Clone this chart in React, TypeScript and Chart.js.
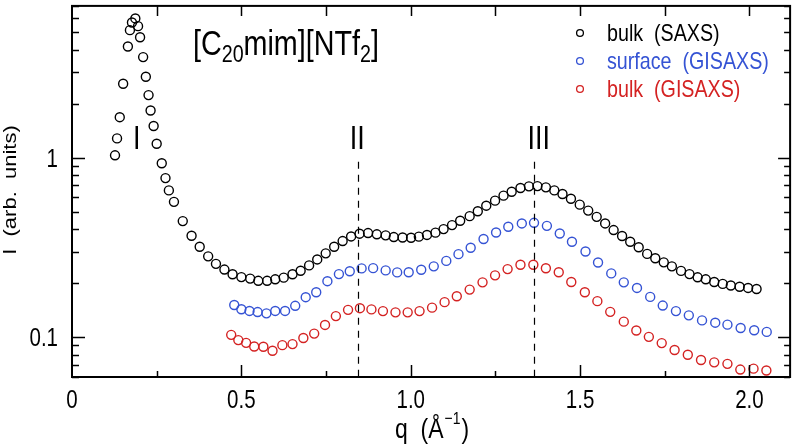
import React, { useEffect, useRef } from "react";
import { Chart, registerables } from "chart.js";

Chart.register(...registerables);

const FONT = '"Liberation Sans", Arial, sans-serif';
const SX = 0.82; // horizontal condensing of the lettering

// bulk (SAXS)
const qSaxs = [0.127,0.133,0.141,0.151,0.165,0.171,0.177,0.187,0.195,0.201,
  0.210,0.218,0.226,0.232,0.241,0.250,0.265,0.276,0.286,0.301,
  0.327,0.353,0.377,0.402,0.425,0.450,0.474,0.500,0.526,0.550,
  0.576,0.600,0.625,0.651,0.675,0.700,0.724,0.749,0.774,0.799,
  0.824,0.849,0.874,0.900,0.926,0.950,0.976,1.001,1.024,1.048,
  1.073,1.097,1.122,1.146,1.174,1.198,1.223,1.249,1.274,1.298,
  1.324,1.349,1.374,1.399,1.424,1.448,1.473,1.499,1.524,1.549,
  1.574,1.599,1.624,1.648,1.673,1.698,1.722,1.747,1.771,1.798,
  1.823,1.847,1.871,1.896,1.921,1.945,1.971,1.996,2.021];
const iSaxs = [1.03,1.28,1.68,2.58,4.16,5.13,5.66,5.96,5.40,4.68,
  3.63,2.82,2.23,1.83,1.50,1.195,0.930,0.769,0.657,0.567,
  0.443,0.367,0.319,0.282,0.256,0.238,0.224,0.216,0.212,0.206,
  0.206,0.210,0.2145,0.224,0.2345,0.251,0.271,0.293,0.319,0.343,
  0.364,0.377,0.380,0.374,0.369,0.361,0.359,0.358,0.363,0.371,
  0.382,0.400,0.421,0.445,0.472,0.503,0.540,0.576,0.614,0.646,
  0.677,0.692,0.694,0.683,0.657,0.627,0.590,0.547,0.507,0.468,
  0.430,0.395,0.366,0.340,0.317,0.291,0.275,0.261,0.248,0.234,
  0.2245,0.2155,0.210,0.203,0.198,0.194,0.191,0.188,0.1855];

// surface (GISAXS)
const qSurf = [0.479,0.500,0.524,0.548,0.574,0.600,0.629,0.659,0.690,0.721,
  0.754,0.788,0.820,0.855,0.889,0.926,0.960,0.994,1.031,1.068,
  1.105,1.141,1.177,1.215,1.252,1.288,1.328,1.364,1.402,1.440,
  1.476,1.516,1.553,1.592,1.629,1.668,1.707,1.744,1.783,1.821,
  1.860,1.899,1.935,1.974,2.014,2.051];
const iSurf = [0.151,0.143,0.140,0.138,0.1357,0.140,0.140,0.1495,0.167,0.178,
  0.205,0.2245,0.233,0.2415,0.2424,0.2355,0.2295,0.230,0.2375,0.248,
  0.266,0.290,0.315,0.352,0.383,0.412,0.430,0.4335,0.417,0.378,
  0.340,0.300,0.2607,0.2266,0.202,0.188,0.1676,0.150,0.1397,0.1323,
  0.124,0.1204,0.1174,0.1125,0.1093,0.107];

// bulk (GISAXS)
const qBulkGi = [0.470,0.491,0.514,0.538,0.565,0.592,0.621,0.651,0.683,0.715,
  0.747,0.779,0.815,0.850,0.884,0.918,0.955,0.991,1.026,1.063,
  1.100,1.136,1.174,1.212,1.249,1.286,1.324,1.362,1.399,1.437,
  1.474,1.514,1.551,1.589,1.629,1.666,1.703,1.741,1.779,1.818,
  1.857,1.896,1.935,1.973,2.012,2.050];
const iBulkGi = [0.103,0.0963,0.093,0.0887,0.0884,0.084,0.0903,0.0915,0.099,0.1047,
  0.117,0.131,0.142,0.145,0.1428,0.1397,0.1375,0.1375,0.1397,0.146,
  0.1567,0.169,0.184,0.202,0.221,0.2394,0.253,0.253,0.242,0.230,
  0.203,0.178,0.1587,0.1384,0.122,0.109,0.1004,0.0927,0.0848,0.0798,
  0.0746,0.0724,0.071,0.066,0.0668,0.0652];

const seriesNames = ["bulk  (SAXS)", "surface  (GISAXS)", "bulk  (GISAXS)"];
const seriesColors = ["#000000", "#3553d4", "#d42222"];

const xTickValues = [0, 0.5, 1.0, 1.5, 2.0];
const xTickLabels = ["0", "0.5", "1.0", "1.5", "2.0"];
const yTickValues = [0.1, 1];
const yTickLabels = ["0.1", "1"];

const peakQ = [0.191, 0.844, 1.365];
const peakLabels = ["I", "II", "III"];
const peakLabelQ = [0.191, 0.842, 1.378];

const titleParts: [string, boolean][] = [["[C", false], ["20", true], ["mim][NTf", false], ["2", true], ["]", false]];

function toPts(q: number[], v: number[]) {
  return q.map((x, i) => ({ x, y: v[i] }));
}

function txt(ctx: CanvasRenderingContext2D, s: string, x: number, y: number, size: number,
  align: CanvasTextAlign = "left", baseline: CanvasTextBaseline = "alphabetic") {
  ctx.save();
  ctx.font = `${size}px ${FONT}`;
  ctx.textAlign = align;
  ctx.textBaseline = baseline;
  ctx.translate(x, y);
  ctx.scale(SX, 1);
  ctx.fillText(s, 0, 0);
  const w = ctx.measureText(s).width * SX;
  ctx.restore();
  return w;
}

const overlay = {
  id: "overlay",
  afterDraw(chart: any) {
    const ctx: CanvasRenderingContext2D = chart.ctx;
    const xs = chart.scales.x;
    const ys = chart.scales.y;
    const a = chart.chartArea;
    ctx.save();
    ctx.strokeStyle = "#000";
    ctx.fillStyle = "#000";
    // dashed peak lines
    ctx.lineWidth = 1.2;
    ctx.setLineDash([7, 6]);
    for (let i = 1; i < peakQ.length; i++) {
      const px = Math.round(xs.getPixelForValue(peakQ[i])) + 0.5;
      ctx.beginPath();
      ctx.moveTo(px, ys.getPixelForValue(0.95));
      ctx.lineTo(px, a.bottom);
      ctx.stroke();
    }
    ctx.setLineDash([]);
    // frame
    ctx.lineWidth = 2;
    ctx.strokeRect(a.left, a.top, a.right - a.left, a.bottom - a.top);
    // x ticks
    ctx.lineWidth = 1.5;
    for (let k = 1; k * 0.25 < 2.12; k++) {
      const v = k * 0.25;
      const px = Math.round(xs.getPixelForValue(v)) + 0.5;
      const major = k % 2 === 0;
      ctx.beginPath();
      ctx.moveTo(px, a.bottom);
      ctx.lineTo(px, a.bottom - (major ? 12 : 6));
      ctx.moveTo(px, a.top);
      ctx.lineTo(px, a.top + 10);
      ctx.stroke();
    }
    // y ticks
    for (let d = -2; d <= 0; d++) {
      for (let m = 1; m <= 9; m++) {
        const v = m * Math.pow(10, d);
        if (v < 0.06 || v > 7) continue;
        const py = Math.round(ys.getPixelForValue(v)) + 0.5;
        const major = m === 1;
        ctx.beginPath();
        ctx.moveTo(a.left, py);
        ctx.lineTo(a.left + (major ? 13 : 7), py);
        ctx.moveTo(a.right, py);
        ctx.lineTo(a.right - (major ? 12 : 6), py);
        ctx.stroke();
      }
    }
    // tick labels
    xTickValues.forEach((v, i) => txt(ctx, xTickLabels[i], xs.getPixelForValue(v), 408, 25, "center"));
    yTickValues.forEach((v, i) => txt(ctx, yTickLabels[i], 58, ys.getPixelForValue(v) + 9, 25, "right"));
    // peak labels
    for (let i = 0; i < peakLabels.length; i++) {
      txt(ctx, peakLabels[i], xs.getPixelForValue(peakLabelQ[i]), 149, 33, "center");
    }
    // title
    let tx = 193;
    for (const [t, sub] of titleParts) {
      tx += txt(ctx, t, tx, sub ? 62 : 55, sub ? 24 : 35);
    }
    // legend
    for (let i = 0; i < seriesNames.length; i++) {
      const y = 33 + i * 28;
      ctx.strokeStyle = seriesColors[i];
      ctx.fillStyle = seriesColors[i];
      ctx.lineWidth = 1.3;
      ctx.beginPath();
      ctx.arc(580, y, 3.4, 0, Math.PI * 2);
      ctx.stroke();
      txt(ctx, seriesNames[i], 607, y + 8, 24);
    }
    // x axis title
    ctx.fillStyle = "#000";
    let ax = 395;
    ax += txt(ctx, "q  (Å", ax, 438, 28) + 1;
    ax += txt(ctx, "−1", ax, 424, 17) + 1;
    txt(ctx, ")", ax, 438, 28);
    // y axis title (rotated; lettering condensed across the line)
    ctx.save();
    ctx.translate(11, 190);
    ctx.rotate(-Math.PI / 2);
    ctx.scale(1, SX);
    ctx.textAlign = "center";
    ctx.textBaseline = "middle";
    ctx.font = `22px ${FONT}`;
    ctx.fillText("I  (arb.  units)", 0, 0);
    ctx.restore();
    ctx.restore();
  },
};

export default function App() {
  const ref = useRef<HTMLCanvasElement>(null);
  useEffect(() => {
    document.body.style.margin = "0";
    const mk = (label: string, q: number[], v: number[], c: string) => ({
      label,
      data: toPts(q, v),
      showLine: false,
      pointStyle: "circle",
      pointRadius: 4.5,
      pointBorderWidth: 1.4,
      pointBorderColor: c,
      pointBackgroundColor: "rgba(0,0,0,0)",
      borderColor: c,
    });
    const chart = new Chart(ref.current!, {
      type: "scatter",
      data: {
        datasets: [
          mk(seriesNames[0], qSaxs, iSaxs, seriesColors[0]),
          mk(seriesNames[1], qSurf, iSurf, seriesColors[1]),
          mk(seriesNames[2], qBulkGi, iBulkGi, seriesColors[2]),
        ],
      },
      options: {
        animation: false,
        responsive: false,
        layout: { padding: { top: 3, right: 3, left: 0, bottom: 0 } },
        plugins: { legend: { display: false }, tooltip: { enabled: false }, title: { display: false } },
        scales: {
          x: {
            type: "linear",
            min: 0,
            max: 2.12,
            grid: { display: false, drawTicks: false },
            border: { display: false },
            afterFit: (s: any) => { s.height = 68; },
            afterBuildTicks: (s: any) => { s.ticks = xTickValues.map((value) => ({ value })); },
            ticks: { display: false },
          },
          y: {
            type: "logarithmic",
            min: 0.06,
            max: 7,
            grid: { display: false, drawTicks: false },
            border: { display: false },
            afterFit: (s: any) => { s.width = 72; },
            afterBuildTicks: (s: any) => { s.ticks = yTickValues.map((value) => ({ value })); },
            ticks: { display: false },
          },
        },
      },
      plugins: [overlay],
    });
    return () => chart.destroy();
  }, []);
  return (
    <div style={{ width: 796, height: 445 }}>
      <canvas ref={ref} width={796} height={445} />
    </div>
  );
}
